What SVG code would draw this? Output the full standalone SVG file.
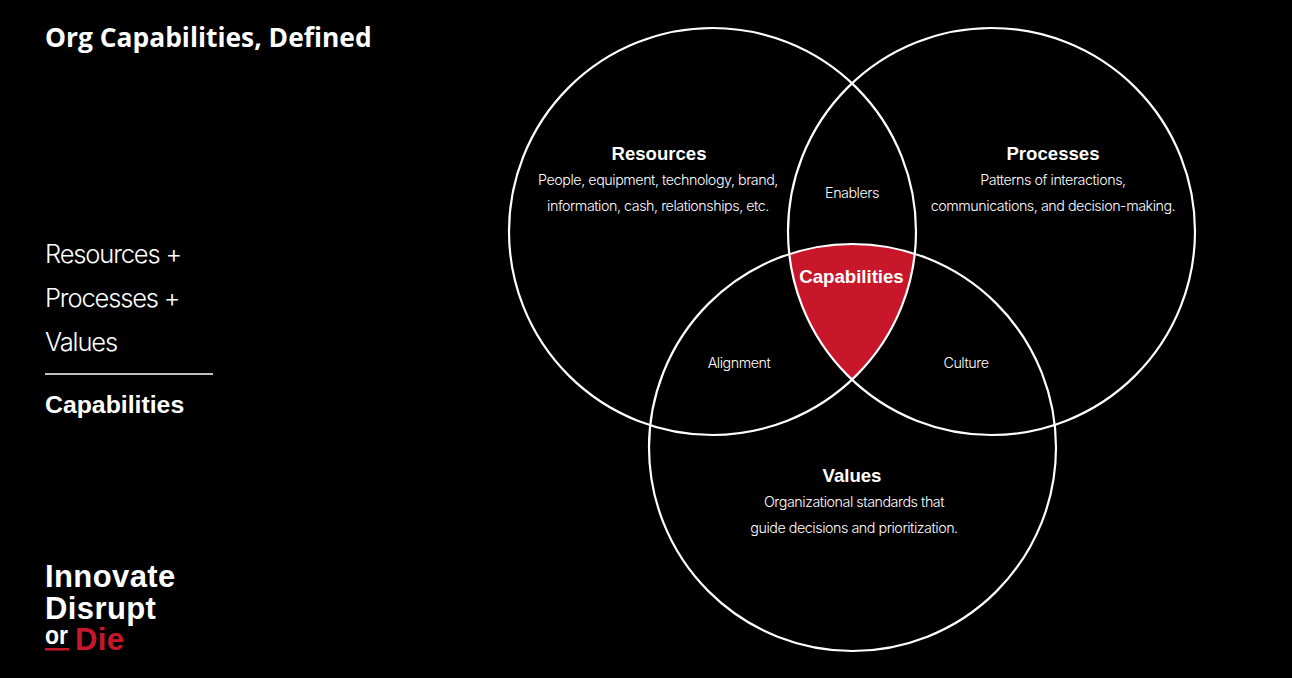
<svg xmlns="http://www.w3.org/2000/svg" width="1292" height="678" viewBox="0 0 1292 678">
<style>
text{font-family:"Liberation Sans",Arial,sans-serif;fill:#fff}
.c{fill:none;stroke:#fff;stroke-width:2.2}
.h{font-size:18.6px;font-weight:700;text-anchor:middle}
.d{font-family:Inter,"Liberation Sans",sans-serif;font-size:14.3px;font-weight:300;text-anchor:middle;letter-spacing:-.46px}
.l{font-family:Inter,"Liberation Sans",sans-serif;font-size:25.5px;font-weight:300;letter-spacing:-1.15px}
.logo{font-size:31px;font-weight:700;letter-spacing:.4px}
</style>
<rect width="1292" height="678" fill="#000"/>
<g id="title"><text x="45" y="47" style="font-family:'Open Sans',sans-serif;font-size:26.4px;font-weight:700">Org Capabilities, Defined</text></g>
<g id="equation">
<text class="l" x="45" y="263">Resources +</text>
<text class="l" x="45" y="307">Processes +</text>
<text class="l" x="45" y="351">Values</text>
<line x1="45" y1="374" x2="213" y2="374" stroke="#fff" stroke-width="1.5"/>
<text x="45" y="413" style="font-size:24.8px;font-weight:700">Capabilities</text>
</g>
<g id="logo">
<text class="logo" x="45" y="587">Innovate</text>
<text class="logo" x="45" y="618.5">Disrupt</text>
<text transform="translate(45 644) scale(1 1.1)" style="font-size:23px;font-weight:700">or</text>
<rect x="45" y="648" width="24" height="2.5" fill="#c8172b"/>
<text class="logo" x="75" y="650" style="fill:#c8172b">Die</text>
</g>
<g id="node-capabilities">
<path d="M852.5 379.7A203.5 203.5 0 0 1 789.2 254.1A203.5 203.5 0 0 1 915.8 254.1A203.5 203.5 0 0 1 852.5 379.7Z" fill="#c8172b"/>
<text x="851.5" y="283" style="font-size:18.6px;font-weight:700;text-anchor:middle">Capabilities</text>
</g>
<g id="connectors">
<circle class="c" cx="712.5" cy="231.5" r="203.5"/>
<circle class="c" cx="991.5" cy="231.5" r="203.5"/>
<circle class="c" cx="852.5" cy="447.5" r="203.5"/>
</g>
<g id="node-resources">
<text class="h" x="659" y="160">Resources</text>
<text class="d" x="658" y="185">People, equipment, technology, brand,</text>
<text class="d" x="658" y="211">information, cash, relationships, etc.</text>
</g>
<g id="node-processes">
<text class="h" x="1053" y="160">Processes</text>
<text class="d" x="1053" y="185">Patterns of interactions,</text>
<text class="d" x="1053" y="211">communications, and decision-making.</text>
</g>
<g id="node-values">
<text class="h" x="852" y="482">Values</text>
<text class="d" x="854" y="507">Organizational standards that</text>
<text class="d" x="854" y="533">guide decisions and prioritization.</text>
</g>
<g id="node-enablers"><text class="d" x="852" y="198">Enablers</text></g>
<g id="node-alignment"><text class="d" x="739" y="368">Alignment</text></g>
<g id="node-culture"><text class="d" x="966" y="368">Culture</text></g>
</svg>
